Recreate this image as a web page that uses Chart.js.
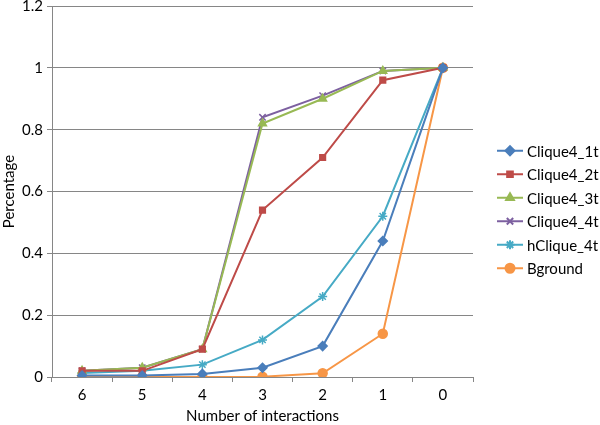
<!DOCTYPE html>
<html>
<head>
<meta charset="utf-8">
<script src="https://cdn.jsdelivr.net/npm/chart.js@4.4.1/dist/chart.umd.min.js"></script>
<style>
  html, body { margin: 0; padding: 0; background: #fff; }
  #wrap { width: 600px; height: 425px; }
</style>
</head>
<body>
<div id="wrap"><canvas id="myChart" width="600" height="425"></canvas></div>
<script>
const categories = ['6', '5', '4', '3', '2', '1', '0'];

const clique1t = [0.005, 0.005, 0.01, 0.03, 0.1, 0.44, 1];
const clique2t = [0.02, 0.02, 0.09, 0.54, 0.71, 0.96, 1];
const clique3t = [0.02, 0.03, 0.09, 0.82, 0.9, 0.99, 1];
const clique4t = [0.02, 0.03, 0.09, 0.84, 0.91, 0.99, 1];
const hClique4t = [0.013, 0.02, 0.04, 0.12, 0.26, 0.52, 1];
const bground = [0, 0, 0, 0.001, 0.012, 0.14, 1];

const seriesNames = ['Clique4_1t', 'Clique4_2t', 'Clique4_3t', 'Clique4_4t', 'hClique_4t', 'Bground'];
const seriesData = [clique1t, clique2t, clique3t, clique4t, hClique4t, bground];
const seriesColors = ['#4a7ebb', '#be4b48', '#98b954', '#7d60a0', '#46aac5', '#f79646'];
const pointStyles = ['rectRot', 'rect', 'triangle', 'crossRot', 'star', 'circle'];
const pointSizes = [4.5, 4, 4.5, 4.5, 4.5, 4.5];

const yTicks = [0, 0.2, 0.4, 0.6, 0.8, 1, 1.2];

const FONT = 'Lato, "DejaVu Sans", sans-serif';

// legend drawn by hand: short line with the marker on it, like the original
const lineLegend = {
    id: 'lineLegend',
    afterDraw(chart) {
        const c = chart.ctx;
        const area = chart.chartArea;
        const step = 23.5;
        const n = chart.data.datasets.length;
        let y = (area.top + area.bottom) / 2 + 18 - step * (n - 1) / 2;
        const x0 = area.right + 24;
        c.save();
        c.font = '15px ' + FONT;
        c.textBaseline = 'middle';
        c.fillStyle = '#000';
        chart.data.datasets.forEach(function (ds) {
            c.strokeStyle = ds.borderColor;
            c.lineWidth = 2;
            c.beginPath();
            c.moveTo(x0, y);
            c.lineTo(x0 + 26, y);
            c.stroke();
            Chart.helpers.drawPoint(c, {
                pointStyle: ds.pointStyle,
                radius: ds.pointRadius,
                borderWidth: 1.5,
                rotation: 0
            }, x0 + 13, y);
            c.fillStyle = ds.borderColor;
            c.fill();
            c.fillStyle = '#000';
            c.fillText(ds.label, x0 + 30, y + 1);
            y += step;
        });
        c.restore();
    }
};

const datasets = seriesNames.map(function (name, i) {
    return {
        label: name,
        data: seriesData[i],
        borderColor: seriesColors[i],
        backgroundColor: seriesColors[i],
        borderWidth: 2,
        pointStyle: pointStyles[i],
        pointRadius: pointSizes[i],
        pointBorderWidth: 1.5,
        pointHoverRadius: pointSizes[i],
        tension: 0
    };
});

const ctx = document.getElementById('myChart').getContext('2d');
let myChart = new Chart(ctx, {
    type: 'line',
    data: {
        labels: categories,
        datasets: datasets
    },
    options: {
        responsive: false,
        animation: false,
        layout: { padding: { top: 5, right: 127, left: 0, bottom: 0 } },
        plugins: {
            legend: { display: false },
            tooltip: { enabled: false }
        },
        scales: {
            x: {
                offset: true,
                grid: {
                    offset: true,
                    drawOnChartArea: false,
                    drawTicks: true,
                    tickLength: 5,
                    color: '#868686'
                },
                border: { color: '#868686', width: 1 },
                ticks: {
                    color: '#000',
                    font: { family: FONT, size: 15 },
                    padding: 4
                },
                title: {
                    display: true,
                    text: 'Number of interactions',
                    color: '#000',
                    font: { family: FONT, size: 15 },
                    padding: { top: 2, bottom: 0 }
                },
                afterFit: function (scale) {
                    scale.height = 48;
                    scale.paddingLeft = 0;
                    scale.paddingRight = 0;
                }
            },
            y: {
                min: 0,
                max: 1.2,
                afterBuildTicks: function (scale) {
                    scale.ticks = yTicks.map(function (v) { return { value: v }; });
                },
                grid: {
                    color: '#868686',
                    drawTicks: true,
                    tickLength: 5
                },
                border: { color: '#868686', width: 1 },
                ticks: {
                    color: '#000',
                    font: { family: FONT, size: 15 },
                    padding: 4,
                    callback: function (v) { return String(Math.round(v * 10) / 10); }
                },
                title: {
                    display: true,
                    text: 'Percentage',
                    color: '#000',
                    font: { family: FONT, size: 15 },
                    padding: { top: 0, bottom: 2 }
                },
                afterFit: function (scale) {
                    scale.width = 52;
                    scale.paddingTop = 0;
                    scale.paddingBottom = 0;
                }
            }
        }
    },
    plugins: [lineLegend]
});
</script>
</body>
</html>
